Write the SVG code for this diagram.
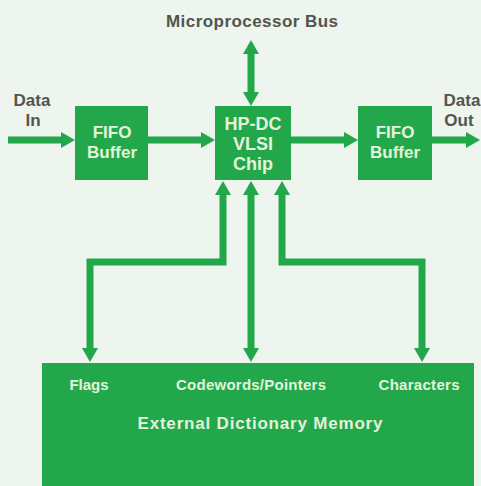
<svg xmlns="http://www.w3.org/2000/svg" width="481" height="486" viewBox="0 0 481 486">
<style>
.box{fill:#22a84a}
.bt{font-family:"Liberation Sans",Arial,sans-serif;font-weight:bold;font-size:17px;fill:#e4f3dc;text-anchor:middle}
.ct{font-family:"Liberation Sans",Arial,sans-serif;font-weight:bold;font-size:18px;fill:#e4f3dc;text-anchor:middle}
.ot{font-family:"Liberation Sans",Arial,sans-serif;font-weight:bold;font-size:17px;fill:#50554f;text-anchor:middle}
.ml{font-family:"Liberation Sans",Arial,sans-serif;font-weight:bold;font-size:15px;fill:#e4f3dc;text-anchor:middle}
.c{fill:none;stroke:#22a84a;stroke-width:7;stroke-linejoin:miter}
</style>
<defs>
<marker id="ah" markerUnits="userSpaceOnUse" markerWidth="14" markerHeight="16" refX="1" refY="8" orient="auto-start-reverse" viewBox="0 0 14 16">
<path d="M0,0 L14,8 L0,16 z" fill="#22a84a"/>
</marker>
</defs>
<rect width="481" height="486" fill="#eef4ee"/>
<text class="ot" x="252" y="27" textLength="172" lengthAdjust="spacing">Microprocessor Bus</text>
<text class="ot" x="32" y="106">Data</text>
<text class="ot" x="33" y="126">In</text>
<text class="ot" x="462" y="106">Data</text>
<text class="ot" x="459" y="126">Out</text>
<g id="connectors">
<path class="c" d="M8,140 H62" marker-end="url(#ah)"/>
<path class="c" d="M148,140 H202" marker-end="url(#ah)"/>
<path class="c" d="M291,140 H345" marker-end="url(#ah)"/>
<path class="c" d="M432,140 H467" marker-end="url(#ah)"/>
<path class="c" d="M251,53 V93" marker-start="url(#ah)" marker-end="url(#ah)"/>
<path class="c" d="M223,194 V262 H90 V349" marker-start="url(#ah)" marker-end="url(#ah)"/>
<path class="c" d="M251,194 V349" marker-start="url(#ah)" marker-end="url(#ah)"/>
<path class="c" d="M282,194 V262 H422 V349" marker-start="url(#ah)" marker-end="url(#ah)"/>
</g>
<g id="fifo-in">
<rect class="box" x="75" y="106" width="73" height="74"/>
<text class="bt" x="112" y="138">FIFO</text>
<text class="bt" x="112" y="158">Buffer</text>
</g>
<g id="chip">
<rect class="box" x="215" y="106" width="76" height="74"/>
<text class="ct" x="253" y="130">HP-DC</text>
<text class="ct" x="253" y="150">VLSI</text>
<text class="ct" x="253" y="170">Chip</text>
</g>
<g id="fifo-out">
<rect class="box" x="358" y="106" width="74" height="74"/>
<text class="bt" x="395" y="138">FIFO</text>
<text class="bt" x="395" y="158">Buffer</text>
</g>
<g id="memory">
<rect class="box" x="42" y="363" width="432" height="123"/>
<text class="ml" x="89" y="390">Flags</text>
<text class="ml" x="251" y="390" textLength="150" lengthAdjust="spacing">Codewords/Pointers</text>
<text class="ml" x="419" y="390" textLength="81" lengthAdjust="spacing">Characters</text>
<text class="bt" x="260" y="429" textLength="245" lengthAdjust="spacing">External Dictionary Memory</text>
</g>
</svg>
